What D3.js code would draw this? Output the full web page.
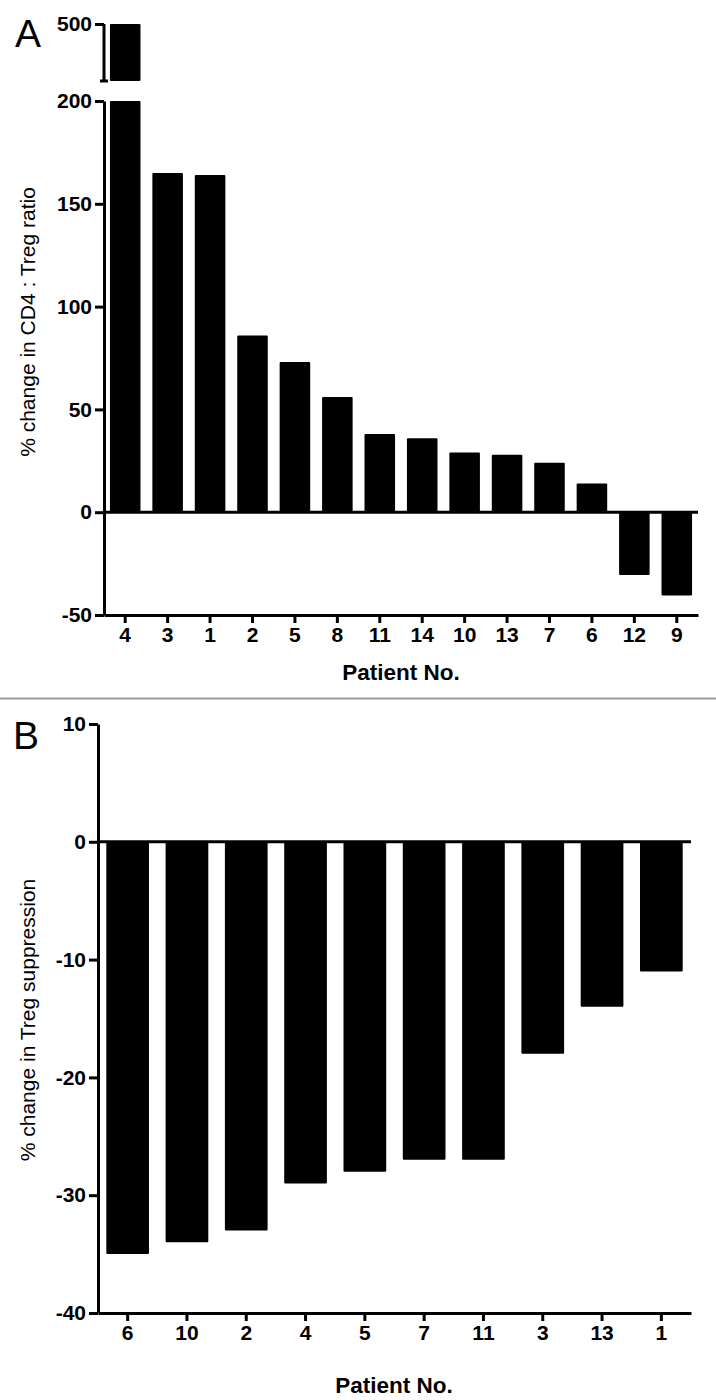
<!DOCTYPE html>
<html>
<head>
<meta charset="utf-8">
<script src="https://cdn.jsdelivr.net/npm/d3@7"></script>
<style>
  body { margin: 0; background: #fff; }
  svg { display: block; }
  .tick text { font-family: "Liberation Sans", Arial, sans-serif; font-weight: bold; font-size: 21px; fill: #000; }
  .ttl { font-family: "Liberation Sans", Arial, sans-serif; fill: #000; }
</style>
</head>
<body>
<script>
// panel A data
var patientsA = ["4", "3", "1", "2", "5", "8", "11", "14", "10", "13", "7", "6", "12", "9"];
var valuesA = [500, 165, 164, 86, 73, 56, 38, 36, 29, 28, 24, 14, -30.5, -40.5];
var ticksA = [-50, 0, 50, 100, 150, 200];
var ticksATop = [500];

// panel B data
var patientsB = ["6", "10", "2", "4", "5", "7", "11", "3", "13", "1"];
var valuesB = [-35, -34, -33, -29, -28, -27, -27, -18, -14, -11];
var ticksB = [-40, -30, -20, -10, 0, 10];

var w = 716, h = 1400;

// plain hyphen for negatives, like the original
var fmt = function(d) { return String(d); };

var svg = d3.select("body").append("svg")
  .attr("width", w)
  .attr("height", h);

// ---------- panel A ----------
var xA = d3.scaleBand().domain(patientsA).range([104, 698]).paddingInner(0.28).paddingOuter(0.14);
var yA = d3.scaleLinear().domain([-50, 200]).range([615, 101]);
// upper segment above the axis break
var yATop = d3.scaleLinear().domain([400, 500]).range([81, 24]);

var gA = svg.append("g");

// bars, lower segment
gA.selectAll("rect.low")
  .data(valuesA)
  .enter().append("rect")
  .attr("class", "low")
  .attr("x", function(d, i) { return xA(patientsA[i]); })
  .attr("width", xA.bandwidth())
  .attr("y", function(d) { return yA(Math.min(Math.max(d, 0), 200)); })
  .attr("height", function(d) { return Math.abs(yA(Math.min(d, 200)) - yA(0)); })
  .attr("rx", 1)
  .attr("fill", "#000");

// bars, upper segment (only values past the break)
gA.selectAll("rect.high")
  .data(valuesA.filter(function(d) { return d > 200; }))
  .enter().append("rect")
  .attr("class", "high")
  .attr("x", function(d) { return xA(patientsA[valuesA.indexOf(d)]); })
  .attr("width", xA.bandwidth())
  .attr("y", function(d) { return yATop(d); })
  .attr("height", function(d) { return yATop.range()[0] - yATop(d); })
  .attr("rx", 1)
  .attr("fill", "#000");

// zero line
gA.append("line")
  .attr("x1", 104).attr("x2", 698)
  .attr("y1", yA(0)).attr("y2", yA(0))
  .attr("stroke", "#000").attr("stroke-width", 3);

// y axis lower
gA.append("g")
  .attr("transform", "translate(104,0)")
  .call(d3.axisLeft(yA).tickValues(ticksA).tickFormat(fmt).tickSize(9).tickPadding(3).tickSizeOuter(0));

// y axis upper
var axATop = gA.append("g")
  .attr("transform", "translate(104,0)")
  .call(d3.axisLeft(yATop).tickValues(ticksATop).tickFormat(fmt).tickSize(9).tickPadding(3).tickSizeOuter(0));
axATop.select(".domain").attr("d", "M-4," + yATop(400) + "H4M0," + yATop(400) + "V" + yATop(500));

// x axis
gA.append("g")
  .attr("transform", "translate(0,615)")
  .call(d3.axisBottom(xA).tickSize(8).tickPadding(4).tickSizeOuter(0));

gA.append("text").attr("class", "ttl")
  .attr("x", 401).attr("y", 680)
  .attr("text-anchor", "middle")
  .attr("font-weight", "bold").attr("font-size", 22.5)
  .text("Patient No.");

gA.append("text").attr("class", "ttl")
  .attr("transform", "translate(35,322) rotate(-90)")
  .attr("text-anchor", "middle")
  .attr("font-size", 21)
  .text("% change in CD4 : Treg ratio");

gA.append("text").attr("class", "ttl")
  .attr("x", 15).attr("y", 47)
  .attr("font-size", 39)
  .text("A");

// separator
svg.append("line")
  .attr("x1", 0).attr("x2", w)
  .attr("y1", 698.5).attr("y2", 698.5)
  .attr("stroke", "#9a9a9a").attr("stroke-width", 2);

// ---------- panel B ----------
var xB = d3.scaleBand().domain(patientsB).range([98, 691]).paddingInner(0.28).paddingOuter(0.14);
var yB = d3.scaleLinear().domain([-40, 10]).range([1313, 724]);

var gB = svg.append("g");

gB.selectAll("rect")
  .data(valuesB)
  .enter().append("rect")
  .attr("x", function(d, i) { return xB(patientsB[i]); })
  .attr("width", xB.bandwidth())
  .attr("y", function(d) { return yB(Math.max(d, 0)); })
  .attr("height", function(d) { return Math.abs(yB(d) - yB(0)); })
  .attr("rx", 1)
  .attr("fill", "#000");

gB.append("line")
  .attr("x1", 98).attr("x2", 691)
  .attr("y1", yB(0)).attr("y2", yB(0))
  .attr("stroke", "#000").attr("stroke-width", 3);

gB.append("g")
  .attr("transform", "translate(98,0)")
  .call(d3.axisLeft(yB).tickValues(ticksB).tickFormat(fmt).tickSize(9).tickPadding(3).tickSizeOuter(0));

gB.append("g")
  .attr("transform", "translate(0,1313)")
  .call(d3.axisBottom(xB).tickSize(8).tickPadding(4).tickSizeOuter(0));

gB.append("text").attr("class", "ttl")
  .attr("x", 394).attr("y", 1393)
  .attr("text-anchor", "middle")
  .attr("font-weight", "bold").attr("font-size", 22.5)
  .text("Patient No.");

gB.append("text").attr("class", "ttl")
  .attr("transform", "translate(35,1020) rotate(-90)")
  .attr("text-anchor", "middle")
  .attr("font-size", 21)
  .text("% change in Treg suppression");

gB.append("text").attr("class", "ttl")
  .attr("x", 13).attr("y", 749)
  .attr("font-size", 39)
  .text("B");

// common axis styling
svg.selectAll(".domain").attr("stroke", "#000").attr("stroke-width", 3);
svg.selectAll(".tick line").attr("stroke", "#000").attr("stroke-width", 3);
</script>
</body>
</html>
